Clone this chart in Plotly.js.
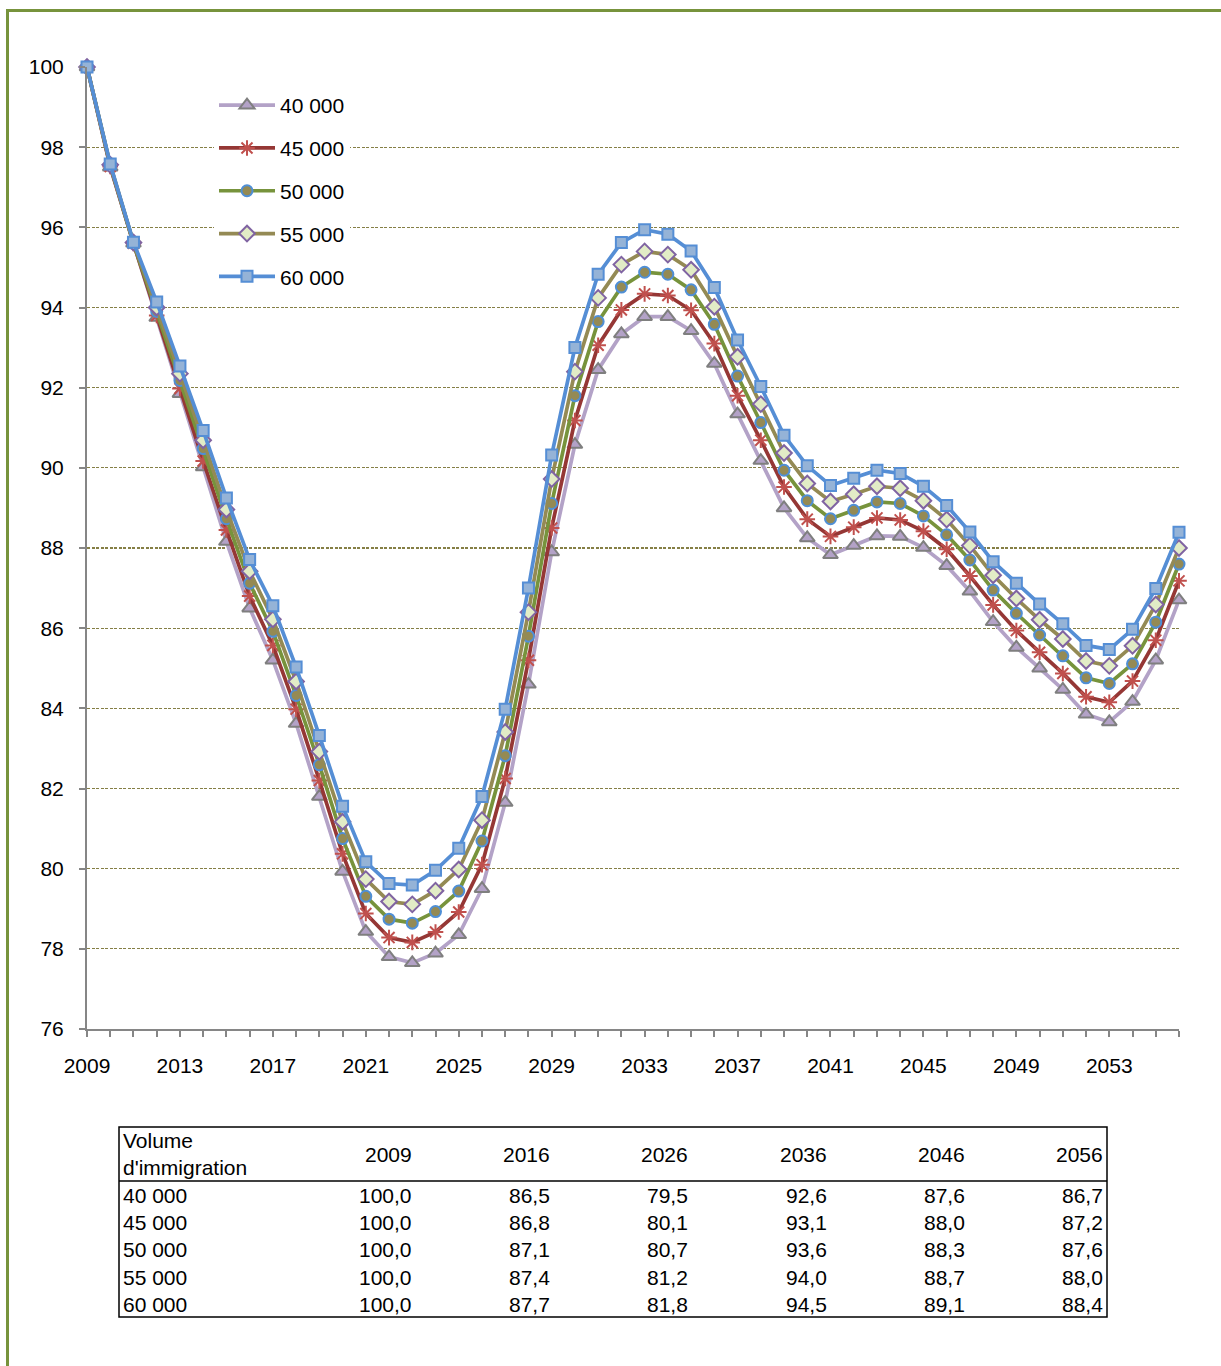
<!DOCTYPE html>
<html>
<head>
<meta charset="utf-8">
<script src="https://cdn.plot.ly/plotly-3.0.1.min.js"></script>
<style>
  html, body { margin: 0; padding: 0; background: #ffffff; overflow: hidden; }
  #wrap { position: relative; width: 1221px; height: 1366px; }
  #chart { position: absolute; left: 0; top: 0; width: 1221px; height: 1366px; }
  #frame { position: absolute; left: 6px; top: 9px; width: 1400px; height: 1500px;
           border-left: 3px solid #77933c; border-top: 3px solid #77933c; pointer-events: none; }
</style>
</head>
<body>
<div id="wrap">
  <div id="chart"></div>
  <div id="frame"></div>
</div>
<script>
// ---------------- DATA ----------------
const years = [2009, 2010, 2011, 2012, 2013, 2014, 2015, 2016, 2017, 2018,
               2019, 2020, 2021, 2022, 2023, 2024, 2025, 2026, 2027, 2028,
               2029, 2030, 2031, 2032, 2033, 2034, 2035, 2036, 2037, 2038,
               2039, 2040, 2041, 2042, 2043, 2044, 2045, 2046, 2047, 2048,
               2049, 2050, 2051, 2052, 2053, 2054, 2055, 2056];

const seriesNames = ["40 000", "45 000", "50 000", "55 000", "60 000"];

const s40000 = [100, 97.5, 95.6, 93.75, 91.85, 90.02, 88.16, 86.5, 85.2, 83.62,
                81.8, 79.93, 78.43, 77.8, 77.65, 77.89, 78.35, 79.5, 81.65, 84.6,
                87.9, 90.58, 92.45, 93.34, 93.77, 93.77, 93.42, 92.6, 91.34, 90.18,
                89.0, 88.25, 87.83, 88.06, 88.3, 88.29, 88.01, 87.56, 86.92, 86.16,
                85.52, 85.0, 84.47, 83.85, 83.66, 84.17, 85.2, 86.7];

const s45000 = [100, 97.52, 95.6, 93.8, 91.98, 90.17, 88.45, 86.8, 85.57, 83.98,
                82.2, 80.37, 78.88, 78.28, 78.16, 78.42, 78.92, 80.1, 82.25, 85.2,
                88.5, 91.18, 93.06, 93.94, 94.34, 94.3, 93.93, 93.1, 91.8, 90.69,
                89.52, 88.72, 88.29, 88.52, 88.75, 88.7, 88.42, 87.97, 87.3, 86.58,
                85.94, 85.4, 84.87, 84.29, 84.15, 84.68, 85.7, 87.18];

const s50000 = [100, 97.55, 95.6, 93.9, 92.18, 90.48, 88.73, 87.12, 85.92, 84.32,
                82.59, 80.75, 79.31, 78.74, 78.64, 78.93, 79.44, 80.69, 82.82, 85.8,
                89.11, 91.8, 93.65, 94.51, 94.88, 94.83, 94.44, 93.58, 92.29, 91.13,
                89.94, 89.18, 88.73, 88.94, 89.15, 89.11, 88.8, 88.33, 87.7, 86.95,
                86.37, 85.83, 85.31, 84.76, 84.62, 85.11, 86.15, 87.6];

const s55000 = [100, 97.56, 95.62, 94.0, 92.35, 90.69, 88.96, 87.42, 86.22, 84.67,
                82.92, 81.17, 79.74, 79.18, 79.11, 79.45, 79.98, 81.21, 83.41, 86.4,
                89.72, 92.4, 94.24, 95.07, 95.4, 95.32, 94.94, 94.02, 92.77, 91.59,
                90.37, 89.61, 89.16, 89.34, 89.54, 89.49, 89.18, 88.71, 88.06, 87.32,
                86.74, 86.21, 85.73, 85.18, 85.06, 85.56, 86.59, 88.0];

const s60000 = [100, 97.58, 95.63, 94.14, 92.54, 90.93, 89.25, 87.71, 86.56, 85.03,
                83.32, 81.56, 80.17, 79.63, 79.59, 79.96, 80.51, 81.8, 83.98, 87.0,
                90.32, 93.0, 94.83, 95.62, 95.94, 95.83, 95.41, 94.5, 93.19, 92.03,
                90.81, 90.05, 89.56, 89.74, 89.94, 89.86, 89.54, 89.06, 88.4, 87.66,
                87.12, 86.6, 86.11, 85.57, 85.47, 85.97, 86.99, 88.39];

const tableHeader = "Volume<br>d'immigration";
const tableYears = [2009, 2016, 2026, 2036, 2046, 2056];
const tableRowLabels = ["40 000", "45 000", "50 000", "55 000", "60 000"];
const table40000 = [100.0, 86.5, 79.5, 92.6, 87.6, 86.7];
const table45000 = [100.0, 86.8, 80.1, 93.1, 88.0, 87.2];
const table50000 = [100.0, 87.1, 80.7, 93.6, 88.3, 87.6];
const table55000 = [100.0, 87.4, 81.2, 94.0, 88.7, 88.0];
const table60000 = [100.0, 87.7, 81.8, 94.5, 89.1, 88.4];

const yTickVals = [76, 78, 80, 82, 84, 86, 88, 90, 92, 94, 96, 98, 100];
const xTickVals = [2009, 2013, 2017, 2021, 2025, 2029, 2033, 2037, 2041, 2045, 2049, 2053];

// ---------------- STYLES ----------------
const FONT = "'Liberation Sans', Arial, sans-serif";
const FS = 21;
const styles = [
  { line: "#b3a2c7", symbol: "triangle-up", size: 13, fill: "#b3a2c7", edge: "#7f7f7f" },
  { line: "#953735", symbol: "asterisk-open", size: 13, fill: "#c0504d", edge: "#c0504d" },
  { line: "#77933c", symbol: "circle", size: 11, fill: "#948a54", edge: "#4f8fd6" },
  { line: "#948a54", symbol: "diamond", size: 12, fill: "#e2ecc6", edge: "#8064a2" },
  { line: "#558ed5", symbol: "square", size: 11, fill: "#95b3d7", edge: "#558ed5" }
];
const seriesValues = [s40000, s45000, s50000, s55000, s60000];

const traces = seriesValues.map((vals, i) => ({
  type: "scatter",
  mode: "lines+markers",
  name: seriesNames[i],
  legendgroup: "g" + i,
  x: years,
  y: vals,
  cliponaxis: false,
  line: { color: styles[i].line, width: 3.7 },
  marker: {
    symbol: styles[i].symbol,
    size: styles[i].size,
    color: styles[i].fill,
    line: { color: styles[i].edge, width: 2 }
  },
  hoverinfo: "x+y+name"
}));

// ---------------- GEOMETRY HELPERS (layout only) ----------------
const PL = 87, PT = 67, PW = 1092, PH = 962;
const px = v => (v - PL) / PW;
const py = v => (PT + PH - v) / PH;

// table annotations and shapes
const annotations = [];
const shapes = [];
const tLeft = 119, tRight = 1107, tTop = 1127, tBottom = 1317, tHeadLine = 1181;
const colRight = c => 412 + c * 138.2;
const rowY = r => 1195.5 + r * 27.2;
const fmt = v => v.toFixed(1).replace(".", ",");
const tableRows = [table40000, table45000, table50000, table55000, table60000];

shapes.push({ type: "rect", xref: "paper", yref: "paper",
  x0: px(tLeft), x1: px(tRight), y0: py(tBottom), y1: py(tTop),
  line: { color: "#000000", width: 1.5 }, fillcolor: "rgba(0,0,0,0)" });
shapes.push({ type: "line", xref: "paper", yref: "paper",
  x0: px(tLeft), x1: px(tRight), y0: py(tHeadLine), y1: py(tHeadLine),
  line: { color: "#000000", width: 1.5 } });

const tfont = { family: FONT, size: FS, color: "#000000" };
annotations.push({ xref: "paper", yref: "paper", x: px(121), y: py(1153.5),
  xanchor: "left", yanchor: "middle", align: "left", showarrow: false,
  text: tableHeader, font: tfont });
tableYears.forEach((yr, c) => {
  annotations.push({ xref: "paper", yref: "paper", x: px(colRight(c) + 2), y: py(1154.5),
    xanchor: "right", yanchor: "middle", showarrow: false, text: String(yr), font: tfont });
});
tableRows.forEach((row, r) => {
  annotations.push({ xref: "paper", yref: "paper", x: px(121), y: py(rowY(r)),
    xanchor: "left", yanchor: "middle", showarrow: false, text: tableRowLabels[r], font: tfont });
  row.forEach((v, c) => {
    annotations.push({ xref: "paper", yref: "paper", x: px(colRight(c) + 2), y: py(rowY(r)),
      xanchor: "right", yanchor: "middle", showarrow: false, text: fmt(v), font: tfont });
  });
});

const layout = {
  width: 1221, height: 1366,
  margin: { l: PL, r: 1221 - PL - PW, t: PT, b: 1366 - PT - PH, pad: 0 },
  paper_bgcolor: "rgba(0,0,0,0)",
  plot_bgcolor: "rgba(0,0,0,0)",
  font: { family: FONT, size: FS, color: "#000000" },
  showlegend: true,
  legend: {
    x: px(214), y: py(85), xanchor: "left", yanchor: "top",
    bgcolor: "#ffffff", borderwidth: 0,
    traceorder: "grouped", tracegroupgap: 12.5,
    font: { family: FONT, size: FS, color: "#000000" },
    itemwidth: 56
  },
  xaxis: {
    range: [2009, 2056],
    tickmode: "array", tickvals: xTickVals,
    ticks: "outside", ticklen: 6, tickwidth: 2, tickcolor: "#868686",
    minor: { dtick: 1, tick0: 2009, ticks: "outside", ticklen: 6, tickwidth: 2, tickcolor: "#868686", showgrid: false },
    showline: true, linecolor: "#868686", linewidth: 2,
    showgrid: false, zeroline: false,
    ticklabelstandoff: 11,
    tickfont: { family: FONT, size: FS, color: "#000000" }
  },
  yaxis: {
    range: [76, 100],
    tickmode: "array", tickvals: yTickVals,
    ticks: "outside", ticklen: 6, tickwidth: 2, tickcolor: "#868686",
    showline: true, linecolor: "#868686", linewidth: 2,
    showgrid: true, gridcolor: "#857f45", gridwidth: 1.3, griddash: "3px,1.5px",
    zeroline: false,
    ticklabelstandoff: 11,
    tickfont: { family: FONT, size: FS, color: "#000000" }
  },
  shapes: shapes,
  annotations: annotations
};

Plotly.newPlot("chart", traces, layout, { displayModeBar: false, staticPlot: true });
</script>
</body>
</html>
